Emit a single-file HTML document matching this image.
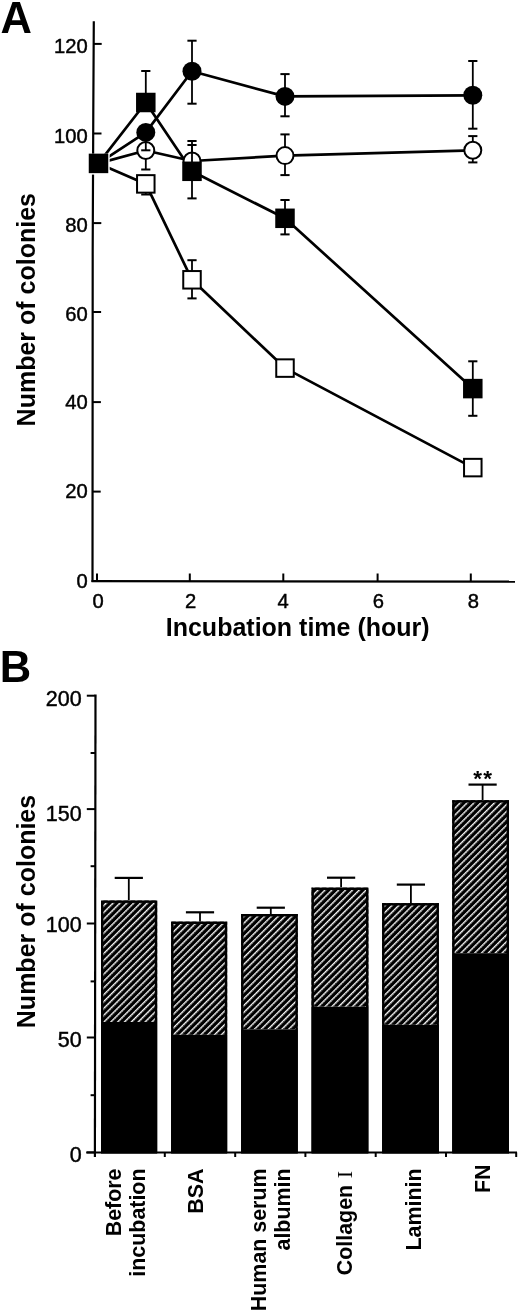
<!DOCTYPE html>
<html><head><meta charset="utf-8"><style>
html,body{margin:0;padding:0;background:#fff;}
svg{display:block;will-change:transform;}
text{font-family:"Liberation Sans", sans-serif;fill:#000;}
.r{stroke:#000;stroke-width:0.45px;}
</style></head><body>
<svg width="520" height="1311" viewBox="0 0 520 1311">
<defs>
<pattern id="hatch" patternUnits="userSpaceOnUse" width="4.85" height="4.9" patternTransform="rotate(45)">
<rect width="4.85" height="4.9" fill="#000"/>
<rect x="0.1" y="0" width="1.1" height="4.9" fill="#e8e8e8"/>
<circle cx="0.65" cy="1.22" r="0.95" fill="#fff"/>
<circle cx="0.65" cy="3.67" r="0.95" fill="#fff"/>
</pattern>
</defs>
<polyline points="93.8,21.3 93.3,110 92.7,250 92.5,582" fill="none" stroke="#000" stroke-width="2.2"/>
<line x1="91.5" y1="581.2" x2="515" y2="581.6" stroke="#000" stroke-width="2.2"/>
<line x1="93.7" y1="43.9" x2="101.7" y2="43.9" stroke="#000" stroke-width="2"/>
<line x1="93.5" y1="133.5" x2="101.5" y2="133.5" stroke="#000" stroke-width="2"/>
<line x1="93.3" y1="223.1" x2="101.3" y2="223.1" stroke="#000" stroke-width="2"/>
<line x1="93.1" y1="312.0" x2="101.1" y2="312.0" stroke="#000" stroke-width="2"/>
<line x1="92.9" y1="402.1" x2="100.9" y2="402.1" stroke="#000" stroke-width="2"/>
<line x1="92.7" y1="491.6" x2="100.7" y2="491.6" stroke="#000" stroke-width="2"/>
<line x1="97.0" y1="581" x2="97.0" y2="573.5" stroke="#000" stroke-width="2"/>
<line x1="189.8" y1="581" x2="189.8" y2="573.5" stroke="#000" stroke-width="2"/>
<line x1="283.3" y1="581" x2="283.3" y2="573.5" stroke="#000" stroke-width="2"/>
<line x1="377.6" y1="581" x2="377.6" y2="573.5" stroke="#000" stroke-width="2"/>
<line x1="470.8" y1="581" x2="470.8" y2="573.5" stroke="#000" stroke-width="2"/>
<text x="87.8" y="52.7" font-size="20.2" text-anchor="end" class="r">120</text>
<text x="87.8" y="143.0" font-size="20.2" text-anchor="end" class="r">100</text>
<text x="87.8" y="232.2" font-size="20.2" text-anchor="end" class="r">80</text>
<text x="87.8" y="320.8" font-size="20.2" text-anchor="end" class="r">60</text>
<text x="87.8" y="408.7" font-size="20.2" text-anchor="end" class="r">40</text>
<text x="87.8" y="498.4" font-size="20.2" text-anchor="end" class="r">20</text>
<text x="87.8" y="588.0" font-size="20.2" text-anchor="end" class="r">0</text>
<text x="98.0" y="608.3" font-size="20.2" text-anchor="middle" class="r">0</text>
<text x="190.6" y="608.3" font-size="20.2" text-anchor="middle" class="r">2</text>
<text x="283.2" y="608.3" font-size="20.2" text-anchor="middle" class="r">4</text>
<text x="378.4" y="608.3" font-size="20.2" text-anchor="middle" class="r">6</text>
<text x="473.4" y="608.3" font-size="20.2" text-anchor="middle" class="r">8</text>
<text x="297.7" y="636" font-size="25" font-weight="bold" text-anchor="middle">Incubation time (hour)</text>
<text transform="translate(35.4,309.7) rotate(-90)" x="0" y="0" font-size="25" font-weight="bold" text-anchor="middle">Number of colonies</text>
<text x="0.6" y="32.7" font-size="43.5" font-weight="bold">A</text>
<polyline points="98.5,163.4 145.8,183.9 192.0,279.8 285.0,368.1 472.8,467.6" fill="none" stroke="#000" stroke-width="2.7" stroke-linejoin="round"/>
<polyline points="98.5,163.4 145.8,150.5 192.0,161.0 285.0,155.6 472.8,150.3" fill="none" stroke="#000" stroke-width="2.7" stroke-linejoin="round"/>
<polyline points="98.5,163.4 145.8,132.4 192.0,71.3 285.0,96.4 472.8,95.3" fill="none" stroke="#000" stroke-width="2.7" stroke-linejoin="round"/>
<polyline points="98.5,163.4 145.8,102.5 192.0,171.3 285.0,218.3 472.8,388.6" fill="none" stroke="#000" stroke-width="2.7" stroke-linejoin="round"/>
<line x1="145.8" y1="183.9" x2="145.8" y2="194.5" stroke="#000" stroke-width="1.8"/>
<line x1="141.20000000000002" y1="183.9" x2="150.4" y2="183.9" stroke="#000" stroke-width="2"/>
<line x1="141.20000000000002" y1="194.5" x2="150.4" y2="194.5" stroke="#000" stroke-width="2"/>
<line x1="192.0" y1="260.2" x2="192.0" y2="298.4" stroke="#000" stroke-width="1.8"/>
<line x1="187.4" y1="260.2" x2="196.6" y2="260.2" stroke="#000" stroke-width="2"/>
<line x1="187.4" y1="298.4" x2="196.6" y2="298.4" stroke="#000" stroke-width="2"/>
<rect x="137.05" y="175.15" width="17.5" height="17.5" fill="#fff" stroke="#000" stroke-width="2"/>
<rect x="183.25" y="271.05" width="17.5" height="17.5" fill="#fff" stroke="#000" stroke-width="2"/>
<rect x="276.25" y="359.35" width="17.5" height="17.5" fill="#fff" stroke="#000" stroke-width="2"/>
<rect x="464.05" y="458.85" width="17.5" height="17.5" fill="#fff" stroke="#000" stroke-width="2"/>
<line x1="145.8" y1="150.5" x2="145.8" y2="169.5" stroke="#000" stroke-width="1.8"/>
<line x1="141.20000000000002" y1="150.5" x2="150.4" y2="150.5" stroke="#000" stroke-width="2"/>
<line x1="141.20000000000002" y1="169.5" x2="150.4" y2="169.5" stroke="#000" stroke-width="2"/>
<line x1="192.0" y1="141" x2="192.0" y2="161" stroke="#000" stroke-width="1.8"/>
<line x1="187.4" y1="141" x2="196.6" y2="141" stroke="#000" stroke-width="2"/>
<line x1="187.4" y1="161" x2="196.6" y2="161" stroke="#000" stroke-width="2"/>
<line x1="285.0" y1="134.4" x2="285.0" y2="175.1" stroke="#000" stroke-width="1.8"/>
<line x1="280.4" y1="134.4" x2="289.6" y2="134.4" stroke="#000" stroke-width="2"/>
<line x1="280.4" y1="175.1" x2="289.6" y2="175.1" stroke="#000" stroke-width="2"/>
<line x1="472.8" y1="136.1" x2="472.8" y2="162.4" stroke="#000" stroke-width="1.8"/>
<line x1="468.2" y1="136.1" x2="477.40000000000003" y2="136.1" stroke="#000" stroke-width="2"/>
<line x1="468.2" y1="162.4" x2="477.40000000000003" y2="162.4" stroke="#000" stroke-width="2"/>
<circle cx="145.8" cy="150.5" r="8.5" fill="#fff" stroke="#000" stroke-width="2"/>
<circle cx="192.0" cy="161.0" r="8.5" fill="#fff" stroke="#000" stroke-width="2"/>
<circle cx="285.0" cy="155.6" r="8.5" fill="#fff" stroke="#000" stroke-width="2"/>
<circle cx="472.8" cy="150.3" r="8.5" fill="#fff" stroke="#000" stroke-width="2"/>
<line x1="145.8" y1="132.4" x2="145.8" y2="150.3" stroke="#000" stroke-width="1.8"/>
<line x1="141.20000000000002" y1="132.4" x2="150.4" y2="132.4" stroke="#000" stroke-width="2"/>
<line x1="141.20000000000002" y1="150.3" x2="150.4" y2="150.3" stroke="#000" stroke-width="2"/>
<line x1="192.0" y1="40.7" x2="192.0" y2="103.7" stroke="#000" stroke-width="1.8"/>
<line x1="187.4" y1="40.7" x2="196.6" y2="40.7" stroke="#000" stroke-width="2"/>
<line x1="187.4" y1="103.7" x2="196.6" y2="103.7" stroke="#000" stroke-width="2"/>
<line x1="285.0" y1="74.1" x2="285.0" y2="116.3" stroke="#000" stroke-width="1.8"/>
<line x1="280.4" y1="74.1" x2="289.6" y2="74.1" stroke="#000" stroke-width="2"/>
<line x1="280.4" y1="116.3" x2="289.6" y2="116.3" stroke="#000" stroke-width="2"/>
<line x1="472.8" y1="61" x2="472.8" y2="128.7" stroke="#000" stroke-width="1.8"/>
<line x1="468.2" y1="61" x2="477.40000000000003" y2="61" stroke="#000" stroke-width="2"/>
<line x1="468.2" y1="128.7" x2="477.40000000000003" y2="128.7" stroke="#000" stroke-width="2"/>
<circle cx="145.8" cy="132.4" r="9.5" fill="#000"/>
<circle cx="192.0" cy="71.3" r="9.5" fill="#000"/>
<circle cx="285.0" cy="96.4" r="9.5" fill="#000"/>
<circle cx="472.8" cy="95.3" r="9.5" fill="#000"/>
<line x1="145.8" y1="71" x2="145.8" y2="102.5" stroke="#000" stroke-width="1.8"/>
<line x1="141.20000000000002" y1="71" x2="150.4" y2="71" stroke="#000" stroke-width="2"/>
<line x1="141.20000000000002" y1="102.5" x2="150.4" y2="102.5" stroke="#000" stroke-width="2"/>
<line x1="192.0" y1="145" x2="192.0" y2="198.4" stroke="#000" stroke-width="1.8"/>
<line x1="187.4" y1="145" x2="196.6" y2="145" stroke="#000" stroke-width="2"/>
<line x1="187.4" y1="198.4" x2="196.6" y2="198.4" stroke="#000" stroke-width="2"/>
<line x1="285.0" y1="200" x2="285.0" y2="234.4" stroke="#000" stroke-width="1.8"/>
<line x1="280.4" y1="200" x2="289.6" y2="200" stroke="#000" stroke-width="2"/>
<line x1="280.4" y1="234.4" x2="289.6" y2="234.4" stroke="#000" stroke-width="2"/>
<line x1="472.8" y1="361.3" x2="472.8" y2="415.8" stroke="#000" stroke-width="1.8"/>
<line x1="468.2" y1="361.3" x2="477.40000000000003" y2="361.3" stroke="#000" stroke-width="2"/>
<line x1="468.2" y1="415.8" x2="477.40000000000003" y2="415.8" stroke="#000" stroke-width="2"/>
<rect x="87.5" y="153.65" width="22.2" height="20.95" fill="#fff"/>
<rect x="88.75" y="153.65" width="19.5" height="19.5" fill="#000"/>
<rect x="136.05" y="92.75" width="19.5" height="19.5" fill="#000"/>
<rect x="182.25" y="161.55" width="19.5" height="19.5" fill="#000"/>
<rect x="275.25" y="208.55" width="19.5" height="19.5" fill="#000"/>
<rect x="463.05" y="378.85" width="19.5" height="19.5" fill="#000"/>
<text x="-0.3" y="682.2" font-size="43.5" font-weight="bold">B</text>
<line x1="95.5" y1="694.6" x2="94.9" y2="1157" stroke="#000" stroke-width="2.2"/>
<line x1="86.2" y1="1152.4" x2="517" y2="1152.4" stroke="#000" stroke-width="2"/>
<line x1="86.8" y1="695.7" x2="95" y2="695.7" stroke="#000" stroke-width="2"/>
<line x1="86.8" y1="809.1" x2="95" y2="809.1" stroke="#000" stroke-width="2"/>
<line x1="86.8" y1="923.5" x2="95" y2="923.5" stroke="#000" stroke-width="2"/>
<line x1="86.8" y1="1037.5" x2="95" y2="1037.5" stroke="#000" stroke-width="2"/>
<line x1="86.8" y1="1152.4" x2="95" y2="1152.4" stroke="#000" stroke-width="2"/>
<line x1="90.6" y1="753.0" x2="95" y2="753.0" stroke="#000" stroke-width="2"/>
<line x1="90.6" y1="866.2" x2="95" y2="866.2" stroke="#000" stroke-width="2"/>
<line x1="90.6" y1="981.4" x2="95" y2="981.4" stroke="#000" stroke-width="2"/>
<line x1="90.6" y1="1095.2" x2="95" y2="1095.2" stroke="#000" stroke-width="2"/>
<text x="81.6" y="706.3" font-size="21.5" text-anchor="end" class="r">200</text>
<text x="81.6" y="820.8" font-size="21.5" text-anchor="end" class="r">150</text>
<text x="81.6" y="932.1" font-size="21.5" text-anchor="end" class="r">100</text>
<text x="81.6" y="1047.1" font-size="21.5" text-anchor="end" class="r">50</text>
<text x="81.6" y="1161.5" font-size="21.5" text-anchor="end" class="r">0</text>
<line x1="164.8" y1="1152.4" x2="164.8" y2="1157" stroke="#000" stroke-width="2"/>
<line x1="235.2" y1="1152.4" x2="235.2" y2="1157" stroke="#000" stroke-width="2"/>
<line x1="305.4" y1="1152.4" x2="305.4" y2="1157" stroke="#000" stroke-width="2"/>
<line x1="375.7" y1="1152.4" x2="375.7" y2="1157" stroke="#000" stroke-width="2"/>
<line x1="446" y1="1152.4" x2="446" y2="1157" stroke="#000" stroke-width="2"/>
<line x1="516.2" y1="1152.4" x2="516.2" y2="1157" stroke="#000" stroke-width="2"/>
<text transform="translate(34.9,911.5) rotate(-90)" font-size="25" font-weight="bold" text-anchor="middle">Number of colonies</text>
<line x1="128.8" y1="877.9" x2="128.8" y2="900.5" stroke="#000" stroke-width="1.8"/>
<line x1="114.7" y1="877.9" x2="142.9" y2="877.9" stroke="#000" stroke-width="2.2"/>
<rect x="101.0" y="900.5" width="56.2" height="121.5" fill="url(#hatch)"/>
<rect x="101.0" y="1022.0" width="56.2" height="130.4" fill="#000"/>
<rect x="102.2" y="901.7" width="53.8" height="250.7" fill="none" stroke="#000" stroke-width="2.4"/>
<line x1="200.0" y1="912.3" x2="200.0" y2="921.6" stroke="#000" stroke-width="1.8"/>
<line x1="185.9" y1="912.3" x2="214.1" y2="912.3" stroke="#000" stroke-width="2.2"/>
<rect x="171.1" y="921.6" width="56.1" height="113.2" fill="url(#hatch)"/>
<rect x="171.1" y="1034.8" width="56.1" height="117.6" fill="#000"/>
<rect x="172.3" y="922.8" width="53.7" height="229.6" fill="none" stroke="#000" stroke-width="2.4"/>
<line x1="270.8" y1="907.7" x2="270.8" y2="914.0" stroke="#000" stroke-width="1.8"/>
<line x1="256.7" y1="907.7" x2="284.9" y2="907.7" stroke="#000" stroke-width="2.2"/>
<rect x="241.1" y="914.0" width="56.7" height="115.3" fill="url(#hatch)"/>
<rect x="241.1" y="1029.3" width="56.7" height="123.1" fill="#000"/>
<rect x="242.3" y="915.2" width="54.3" height="237.2" fill="none" stroke="#000" stroke-width="2.4"/>
<line x1="341.1" y1="877.7" x2="341.1" y2="887.6" stroke="#000" stroke-width="1.8"/>
<line x1="327.0" y1="877.7" x2="355.2" y2="877.7" stroke="#000" stroke-width="2.2"/>
<rect x="311.5" y="887.6" width="56.9" height="119.1" fill="url(#hatch)"/>
<rect x="311.5" y="1006.7" width="56.9" height="145.7" fill="#000"/>
<rect x="312.7" y="888.8" width="54.5" height="263.6" fill="none" stroke="#000" stroke-width="2.4"/>
<line x1="410.9" y1="884.6" x2="410.9" y2="903.1" stroke="#000" stroke-width="1.8"/>
<line x1="396.8" y1="884.6" x2="425.0" y2="884.6" stroke="#000" stroke-width="2.2"/>
<rect x="382.1" y="903.1" width="56.8" height="121.7" fill="url(#hatch)"/>
<rect x="382.1" y="1024.8" width="56.8" height="127.6" fill="#000"/>
<rect x="383.3" y="904.3" width="54.4" height="248.1" fill="none" stroke="#000" stroke-width="2.4"/>
<line x1="482.6" y1="784.6" x2="482.6" y2="800.2" stroke="#000" stroke-width="1.8"/>
<line x1="468.5" y1="784.6" x2="496.7" y2="784.6" stroke="#000" stroke-width="2.2"/>
<rect x="452.2" y="800.2" width="56.8" height="153.0" fill="url(#hatch)"/>
<rect x="452.2" y="953.2" width="56.8" height="199.2" fill="#000"/>
<rect x="453.4" y="801.4" width="54.4" height="351.0" fill="none" stroke="#000" stroke-width="2.4"/>
<text x="477.7" y="785.8" font-size="22.5" font-weight="bold" text-anchor="middle">*</text>
<text x="487.6" y="785.8" font-size="22.5" font-weight="bold" text-anchor="middle">*</text>
<text transform="translate(120.8,1168.5) rotate(-90)" font-size="21.4" font-weight="bold" text-anchor="end">Before</text>
<text transform="translate(144.5,1168.5) rotate(-90)" font-size="21.4" font-weight="bold" text-anchor="end">incubation</text>
<text transform="translate(203.0,1168.5) rotate(-90)" font-size="21.4" font-weight="bold" text-anchor="end">BSA</text>
<text transform="translate(265.8,1168.5) rotate(-90)" font-size="21.4" font-weight="bold" text-anchor="end">Human serum</text>
<text transform="translate(290.0,1168.5) rotate(-90)" font-size="21.4" font-weight="bold" text-anchor="end">albumin</text>
<text transform="translate(351.7,1184.9) rotate(-90)" font-size="21.4" font-weight="bold" text-anchor="end">Collagen</text>
<text transform="translate(351.9,1174.5) rotate(-90)" font-size="22" text-anchor="middle" style="font-family:&quot;Liberation Serif&quot;,serif">I</text>
<text transform="translate(420.8,1168.5) rotate(-90)" font-size="21.4" font-weight="bold" text-anchor="end">Laminin</text>
<text transform="translate(490.1,1164.5) rotate(-90)" font-size="21.4" font-weight="bold" text-anchor="end">FN</text>
</svg>
</body></html>
